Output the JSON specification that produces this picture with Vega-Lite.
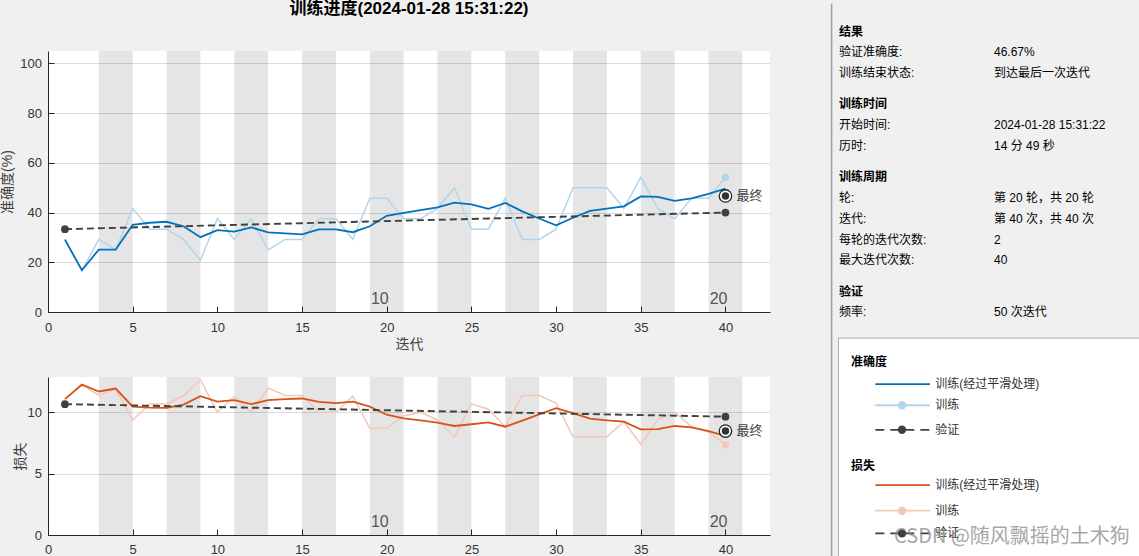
{
  "$schema": "https://vega.github.io/schema/vega-lite/v6.json",
  "background": "#f0f0f0",
  "padding": {"left": 0, "top": 0, "right": 0, "bottom": 0},
  "config": {
    "font": "Liberation Sans, Noto Sans CJK SC",
    "view": {"stroke": null},
    "axis": {
      "labelFontSize": 13, "labelColor": "#333333", "titleFontSize": 14, "titleFontWeight": "normal",
      "titleColor": "#404040", "domainColor": "#262626", "tickColor": "#262626", "tickSize": -6,
      "gridColor": "#dcdcdc", "labelFlush": false, "labelOverlap": false
    }
  },
  "datasets": {
    "iters": [
      {"iter": 1, "as": 29.1, "ar": 29.2, "ls": 11.07, "lr": 11.07},
      {"iter": 2, "as": 16.8, "ar": 16.7, "ls": 12.26, "lr": 12.2},
      {"iter": 3, "as": 25.1, "ar": 29.2, "ls": 11.69, "lr": 11.39},
      {"iter": 4, "as": 25.1, "ar": 25.0, "ls": 11.93, "lr": 11.87},
      {"iter": 5, "as": 35.1, "ar": 41.7, "ls": 10.46, "lr": 9.37},
      {"iter": 6, "as": 35.9, "ar": 33.3, "ls": 10.38, "lr": 10.68},
      {"iter": 7, "as": 36.3, "ar": 33.3, "ls": 10.35, "lr": 10.68},
      {"iter": 8, "as": 34.5, "ar": 29.2, "ls": 10.62, "lr": 11.34},
      {"iter": 9, "as": 30.1, "ar": 20.8, "ls": 11.31, "lr": 12.65},
      {"iter": 10, "as": 32.9, "ar": 37.5, "ls": 10.87, "lr": 10.0},
      {"iter": 11, "as": 32.3, "ar": 29.2, "ls": 10.98, "lr": 11.28},
      {"iter": 12, "as": 34.0, "ar": 37.5, "ls": 10.66, "lr": 10.0},
      {"iter": 13, "as": 32.0, "ar": 25.0, "ls": 10.98, "lr": 11.97},
      {"iter": 14, "as": 31.6, "ar": 29.2, "ls": 11.07, "lr": 11.36},
      {"iter": 15, "as": 31.2, "ar": 29.2, "ls": 11.12, "lr": 11.36},
      {"iter": 16, "as": 33.2, "ar": 37.5, "ls": 10.84, "lr": 10.0},
      {"iter": 17, "as": 33.2, "ar": 37.5, "ls": 10.74, "lr": 10.0},
      {"iter": 18, "as": 32.1, "ar": 29.2, "ls": 10.87, "lr": 11.31},
      {"iter": 19, "as": 34.5, "ar": 45.8, "ls": 10.46, "lr": 8.69},
      {"iter": 20, "as": 38.7, "ar": 45.8, "ls": 9.80, "lr": 8.69},
      {"iter": 21, "as": 39.9, "ar": 37.5, "ls": 9.5, "lr": 9.7},
      {"iter": 22, "as": 41.0, "ar": 37.5, "ls": 9.33, "lr": 10.0},
      {"iter": 23, "as": 42.1, "ar": 41.7, "ls": 9.15, "lr": 9.37},
      {"iter": 24, "as": 44.0, "ar": 50.0, "ls": 8.88, "lr": 8.0},
      {"iter": 25, "as": 43.3, "ar": 33.3, "ls": 9.02, "lr": 10.68},
      {"iter": 26, "as": 41.5, "ar": 33.3, "ls": 9.18, "lr": 10.25},
      {"iter": 27, "as": 43.9, "ar": 45.8, "ls": 8.82, "lr": 8.82},
      {"iter": 28, "as": 40.5, "ar": 29.2, "ls": 9.31, "lr": 11.36},
      {"iter": 29, "as": 37.6, "ar": 29.2, "ls": 9.83, "lr": 11.36},
      {"iter": 30, "as": 34.9, "ar": 33.3, "ls": 10.33, "lr": 10.74},
      {"iter": 31, "as": 37.9, "ar": 50.0, "ls": 9.92, "lr": 8.0},
      {"iter": 32, "as": 40.7, "ar": 50.0, "ls": 9.48, "lr": 8.0},
      {"iter": 33, "as": 41.6, "ar": 50.0, "ls": 9.34, "lr": 8.0},
      {"iter": 34, "as": 42.5, "ar": 41.7, "ls": 9.23, "lr": 9.23},
      {"iter": 35, "as": 46.5, "ar": 54.2, "ls": 8.6, "lr": 7.4},
      {"iter": 36, "as": 46.3, "ar": 41.7, "ls": 8.63, "lr": 9.37},
      {"iter": 37, "as": 44.7, "ar": 37.5, "ls": 8.88, "lr": 10.0},
      {"iter": 38, "as": 45.7, "ar": 45.8, "ls": 8.77, "lr": 8.82},
      {"iter": 39, "as": 47.5, "ar": 45.8, "ls": 8.47, "lr": 8.38},
      {"iter": 40, "as": 49.6, "ar": 54.2, "ls": 8.08, "lr": 7.35}
    ],
    "val": [
      {"iter": 1, "acc": 33.33, "loss": 10.66},
      {"iter": 40, "acc": 40.0, "loss": 9.64}
    ],
    "final": [{"iter": 40, "acc": 46.67, "loss": 8.47}],
    "bands": [
      {"start": 3, "end": 5}, {"start": 7, "end": 9}, {"start": 11, "end": 13}, {"start": 15, "end": 17},
      {"start": 19, "end": 21}, {"start": 23, "end": 25}, {"start": 27, "end": 29}, {"start": 31, "end": 33},
      {"start": 35, "end": 37}, {"start": 39, "end": 41}
    ],
    "epochs": [{"iter": 20, "label": "10"}, {"iter": 40, "label": "20"}],
    "heads": [
      {"row": 0, "label": "结果"},
      {"row": 3.5, "label": "训练时间"},
      {"row": 7, "label": "训练周期"},
      {"row": 12.5, "label": "验证"}
    ],
    "info": [
      {"row": 1, "label": "验证准确度:", "value": "46.67%"},
      {"row": 2, "label": "训练结束状态:", "value": "到达最后一次迭代"},
      {"row": 4.5, "label": "开始时间:", "value": "2024-01-28 15:31:22"},
      {"row": 5.5, "label": "历时:", "value": "14 分 49 秒"},
      {"row": 8, "label": "轮:", "value": "第 20 轮，共 20 轮"},
      {"row": 9, "label": "迭代:", "value": "第 40 次，共 40 次"},
      {"row": 10, "label": "每轮的迭代次数:", "value": "2"},
      {"row": 11, "label": "最大迭代次数:", "value": "40"},
      {"row": 13.5, "label": "频率:", "value": "50 次迭代"}
    ],
    "legendHeads": [
      {"row": 15.87, "label": "准确度"},
      {"row": 20.87, "label": "损失"}
    ],
    "legendItems": [
      {"row": 16.94, "name": "训练(经过平滑处理)", "s": "as", "marker": false},
      {"row": 17.96, "name": "训练", "s": "ar", "marker": true},
      {"row": 19.14, "name": "验证", "s": "av", "marker": true},
      {"row": 21.8, "name": "训练(经过平滑处理)", "s": "ls", "marker": false},
      {"row": 23.03, "name": "训练", "s": "lr", "marker": true},
      {"row": 24.12, "name": "验证", "s": "lv", "marker": true}
    ],
    "watermark": [{"row": 24.29, "text": "CSDN @随风飘摇的土木狗"}]
  },
  "hconcat": [
    {
      "vconcat": [
        {
          "width": 722,
          "height": 261,
          "view": {"fill": "#ffffff", "stroke": null},
          "title": {"text": "训练进度(2024-01-28 15:31:22)", "fontSize": 17, "fontWeight": "bold", "color": "#000000", "offset": 33, "anchor": "middle"},
          "layer": [
            {
              "data": {"name": "bands"},
              "mark": {"type": "rect", "color": "#000000", "opacity": 0.1},
              "encoding": {
                "x": {"field": "start", "type": "quantitative", "scale": {"domain": [0, 42.63], "nice": false, "zero": false},
                  "axis": {"title": "迭代", "values": [0, 5, 10, 15, 20, 25, 30, 35, 40], "grid": false, "labelPadding": 15, "titlePadding": 3}},
                "x2": {"field": "end"}
              }
            },
            {
              "data": {"name": "iters"},
              "mark": {"type": "line", "color": "#b3d5eb", "strokeWidth": 1.5},
              "encoding": {
                "x": {"field": "iter", "type": "quantitative"},
                "y": {"field": "ar", "type": "quantitative", "scale": {"domain": [0, 105], "nice": false},
                  "axis": {"title": "准确度(%)", "values": [0, 20, 40, 60, 80, 100], "grid": true, "labelPadding": 12.5, "titlePadding": 5}}
              }
            },
            {
              "data": {"name": "iters"},
              "transform": [{"filter": "datum.iter == 40"}],
              "mark": {"type": "point", "filled": true, "color": "#b3d5eb", "size": 55, "opacity": 1},
              "encoding": {
                "x": {"field": "iter", "type": "quantitative"},
                "y": {"field": "ar", "type": "quantitative"}
              }
            },
            {
              "data": {"name": "iters"},
              "mark": {"type": "line", "color": "#0072bd", "strokeWidth": 1.8},
              "encoding": {
                "x": {"field": "iter", "type": "quantitative"},
                "y": {"field": "as", "type": "quantitative"}
              }
            },
            {
              "data": {"name": "val"},
              "mark": {"type": "line", "color": "#404040", "strokeWidth": 1.9, "strokeDash": [7, 4],
                "point": {"filled": true, "size": 60, "color": "#404040", "opacity": 1}},
              "encoding": {
                "x": {"field": "iter", "type": "quantitative"},
                "y": {"field": "acc", "type": "quantitative"}
              }
            },
            {
              "data": {"name": "final"},
              "mark": {"type": "point", "shape": "circle", "size": 155, "fill": "#ffffff", "stroke": "#262626", "strokeWidth": 1.3, "opacity": 1},
              "encoding": {
                "x": {"field": "iter", "type": "quantitative"},
                "y": {"field": "acc", "type": "quantitative"}
              }
            },
            {
              "data": {"name": "final"},
              "mark": {"type": "point", "shape": "circle", "size": 55, "filled": true, "color": "#333333", "opacity": 1},
              "encoding": {
                "x": {"field": "iter", "type": "quantitative"},
                "y": {"field": "acc", "type": "quantitative"}
              }
            },
            {
              "data": {"name": "final"},
              "mark": {"type": "text", "align": "left", "baseline": "middle", "dx": 11, "fontSize": 13, "color": "#404040"},
              "encoding": {
                "x": {"field": "iter", "type": "quantitative"},
                "y": {"field": "acc", "type": "quantitative"},
                "text": {"value": "最终"}
              }
            },
            {
              "data": {"name": "epochs"},
              "mark": {"type": "text", "align": "right", "baseline": "alphabetic", "dx": 2, "fontSize": 16, "color": "#555555"},
              "encoding": {
                "x": {"field": "iter", "type": "quantitative"},
                "y": {"datum": 3.3},
                "text": {"field": "label"}
              }
            }
          ]
        },
        {
          "width": 722,
          "height": 158,
          "view": {"fill": "#ffffff", "stroke": null},
          "layer": [
            {
              "data": {"name": "bands"},
              "mark": {"type": "rect", "color": "#000000", "opacity": 0.1},
              "encoding": {
                "x": {"field": "start", "type": "quantitative", "scale": {"domain": [0, 42.63], "nice": false, "zero": false},
                  "axis": {"title": null, "values": [0, 5, 10, 15, 20, 25, 30, 35, 40], "grid": false, "labelPadding": 14}},
                "x2": {"field": "end"}
              }
            },
            {
              "data": {"name": "iters"},
              "mark": {"type": "line", "color": "#f4c8b6", "strokeWidth": 1.5},
              "encoding": {
                "x": {"field": "iter", "type": "quantitative"},
                "y": {"field": "lr", "type": "quantitative", "scale": {"domain": [0, 12.87], "nice": false},
                  "axis": {"title": "损失", "values": [0, 5, 10], "grid": true, "labelPadding": 12.5, "titlePadding": 0}}
              }
            },
            {
              "data": {"name": "iters"},
              "transform": [{"filter": "datum.iter == 40"}],
              "mark": {"type": "point", "filled": true, "color": "#f4c8b6", "size": 55, "opacity": 1},
              "encoding": {
                "x": {"field": "iter", "type": "quantitative"},
                "y": {"field": "lr", "type": "quantitative"}
              }
            },
            {
              "data": {"name": "iters"},
              "mark": {"type": "line", "color": "#d95319", "strokeWidth": 1.8},
              "encoding": {
                "x": {"field": "iter", "type": "quantitative"},
                "y": {"field": "ls", "type": "quantitative"}
              }
            },
            {
              "data": {"name": "val"},
              "mark": {"type": "line", "color": "#404040", "strokeWidth": 1.9, "strokeDash": [7, 4],
                "point": {"filled": true, "size": 60, "color": "#404040", "opacity": 1}},
              "encoding": {
                "x": {"field": "iter", "type": "quantitative"},
                "y": {"field": "loss", "type": "quantitative"}
              }
            },
            {
              "data": {"name": "final"},
              "mark": {"type": "point", "shape": "circle", "size": 155, "fill": "#ffffff", "stroke": "#262626", "strokeWidth": 1.3, "opacity": 1},
              "encoding": {
                "x": {"field": "iter", "type": "quantitative"},
                "y": {"field": "loss", "type": "quantitative"}
              }
            },
            {
              "data": {"name": "final"},
              "mark": {"type": "point", "shape": "circle", "size": 55, "filled": true, "color": "#333333", "opacity": 1},
              "encoding": {
                "x": {"field": "iter", "type": "quantitative"},
                "y": {"field": "loss", "type": "quantitative"}
              }
            },
            {
              "data": {"name": "final"},
              "mark": {"type": "text", "align": "left", "baseline": "middle", "dx": 11, "fontSize": 13, "color": "#404040"},
              "encoding": {
                "x": {"field": "iter", "type": "quantitative"},
                "y": {"field": "loss", "type": "quantitative"},
                "text": {"value": "最终"}
              }
            },
            {
              "data": {"name": "epochs"},
              "mark": {"type": "text", "align": "right", "baseline": "alphabetic", "dx": 2, "fontSize": 16, "color": "#555555"},
              "encoding": {
                "x": {"field": "iter", "type": "quantitative"},
                "y": {"datum": 0.62},
                "text": {"field": "label"}
              }
            }
          ]
        }
      ],
      "spacing": 25
    },
    {
      "width": 309,
      "height": 505,
      "layer": [
        {
          "data": {"values": [{"k": 1}]},
          "mark": {"type": "rule", "color": "#a0a0a0", "strokeWidth": 1.5},
          "encoding": {
            "x": {"datum": 0.2, "type": "quantitative", "scale": {"domain": [0, 100], "nice": false, "zero": false}, "axis": null},
            "y": {"datum": -1.35, "type": "quantitative", "scale": {"domain": [0.928, 25.207], "nice": false, "zero": false, "reverse": true}, "axis": null},
            "y2": {"datum": 25.207}
          }
        },
        {
          "data": {"values": [{"k": 1}]},
          "mark": {"type": "rect", "fill": "#ffffff", "stroke": "#adadad", "strokeWidth": 1},
          "encoding": {
            "x": {"datum": 2.4},
            "x2": {"datum": 101},
            "y": {"datum": 14.73},
            "y2": {"datum": 25.5}
          }
        },
        {
          "data": {"name": "heads"},
          "mark": {"type": "text", "align": "left", "baseline": "middle", "fontSize": 12, "fontWeight": "bold", "color": "#000000"},
          "encoding": {
            "x": {"datum": 2.6},
            "y": {"field": "row", "type": "quantitative"},
            "text": {"field": "label"}
          }
        },
        {
          "data": {"name": "info"},
          "mark": {"type": "text", "align": "left", "baseline": "middle", "fontSize": 12, "color": "#000000"},
          "encoding": {
            "x": {"datum": 2.6},
            "y": {"field": "row", "type": "quantitative"},
            "text": {"field": "label"}
          }
        },
        {
          "data": {"name": "info"},
          "mark": {"type": "text", "align": "left", "baseline": "middle", "fontSize": 12, "color": "#000000"},
          "encoding": {
            "x": {"datum": 52.75},
            "y": {"field": "row", "type": "quantitative"},
            "text": {"field": "value"}
          }
        },
        {
          "data": {"name": "legendHeads"},
          "mark": {"type": "text", "align": "left", "baseline": "middle", "fontSize": 12, "fontWeight": "bold", "color": "#000000"},
          "encoding": {
            "x": {"datum": 6.47},
            "y": {"field": "row", "type": "quantitative"},
            "text": {"field": "label"}
          }
        },
        {
          "data": {"name": "legendItems"},
          "mark": {"type": "rule", "strokeWidth": 1.8},
          "encoding": {
            "x": {"datum": 14.34},
            "x2": {"datum": 32.04},
            "y": {"field": "row", "type": "quantitative"},
            "stroke": {"field": "s", "type": "nominal", "legend": null,
              "scale": {"domain": ["as", "ar", "av", "ls", "lr", "lv"], "range": ["#0072bd", "#b3d5eb", "#404040", "#d95319", "#f4c8b6", "#404040"]}},
            "strokeDash": {"field": "s", "type": "nominal", "legend": null,
              "scale": {"domain": ["as", "ar", "av", "ls", "lr", "lv"], "range": [[1, 0], [1, 0], [9, 6], [1, 0], [1, 0], [9, 6]]}}
          }
        },
        {
          "data": {"name": "legendItems"},
          "transform": [{"filter": "datum.marker"}],
          "mark": {"type": "point", "filled": true, "size": 70, "opacity": 1},
          "encoding": {
            "x": {"datum": 22.98},
            "y": {"field": "row", "type": "quantitative"},
            "color": {"field": "s", "type": "nominal", "legend": null,
              "scale": {"domain": ["as", "ar", "av", "ls", "lr", "lv"], "range": ["#0072bd", "#b3d5eb", "#404040", "#d95319", "#f4c8b6", "#404040"]}}
          }
        },
        {
          "data": {"name": "legendItems"},
          "mark": {"type": "text", "align": "left", "baseline": "middle", "fontSize": 12, "color": "#333333"},
          "encoding": {
            "x": {"datum": 33.75},
            "y": {"field": "row", "type": "quantitative"},
            "text": {"field": "name"}
          }
        },
        {
          "data": {"name": "watermark"},
          "mark": {"type": "text", "align": "left", "baseline": "middle", "fontSize": 20, "color": "#8a8a8a", "opacity": 0.75, "font": "Noto Sans CJK SC"},
          "encoding": {
            "x": {"datum": 20.4},
            "y": {"field": "row", "type": "quantitative"},
            "text": {"field": "text"}
          }
        }
      ]
    }
  ],
  "spacing": 60
}
